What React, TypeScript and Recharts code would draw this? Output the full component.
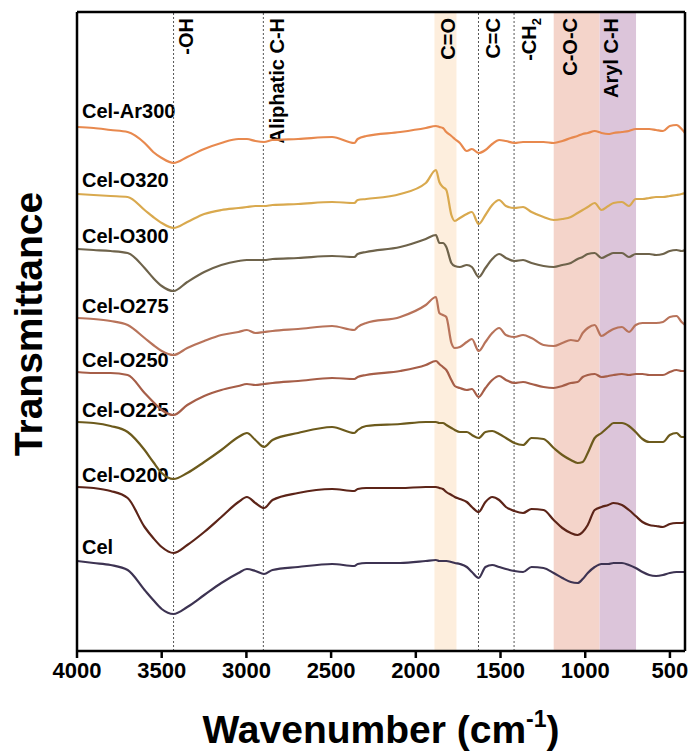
import { LineChart, Line, XAxis, YAxis, ReferenceLine, ReferenceArea } from 'recharts'

// wavenumber grid (cm-1) shared by all spectra
const wavenumbers = [4000, 3902, 3802, 3701, 3601, 3550, 3500, 3430, 3349, 3249, 3148, 3047, 2997, 2947, 2896, 2846, 2695, 2494, 2363, 2343, 2293, 2092, 1941, 1881, 1861, 1840, 1820, 1790, 1770, 1740, 1699, 1669, 1629, 1589, 1549, 1508, 1468, 1418, 1367, 1317, 1246, 1186, 1135, 1085, 1045, 1015, 985, 944, 904, 864, 833, 783, 742, 702, 662, 622, 582, 541, 501, 461, 431, 411]

// stacked transmittance (a.u., offset per sample)
const celAr300 = [529, 528, 526, 524, 513, 504, 498, 493, 499, 507, 513, 517, 517, 515, 514, 516, 517, 519, 513, 517, 520, 524, 528, 530, 529, 528, 524, 520, 517, 513, 505, 507, 503, 506, 512, 516, 515, 513, 514, 514, 514, 513, 515, 518, 520, 522, 523, 525, 523, 522, 523, 524, 525, 527, 527, 527, 526, 525, 530, 531, 527, 523]
const celO320 = [462, 461, 460, 459, 446, 439, 433, 428, 434, 442, 446, 448, 449, 450, 450, 451, 452, 454, 453, 456, 457, 462, 473, 486, 474, 469, 466, 441, 435, 438, 442, 444, 432, 441, 451, 456, 450, 448, 449, 444, 439, 436, 437, 439, 443, 446, 449, 453, 446, 450, 453, 454, 450, 457, 457, 458, 459, 459, 460, 461, 462, 463]
const celO300 = [407, 406, 405, 403, 388, 378, 370, 365, 374, 384, 391, 395, 396, 396, 396, 397, 398, 400, 399, 402, 404, 409, 417, 421, 413, 413, 409, 393, 390, 389, 391, 389, 379, 388, 397, 402, 398, 395, 396, 393, 390, 389, 391, 393, 397, 399, 402, 403, 398, 401, 403, 403, 399, 402, 402, 402, 401, 402, 405, 406, 405, 406]
const celO275 = [338, 337, 335, 331, 318, 311, 305, 301, 308, 315, 321, 324, 326, 323, 324, 325, 327, 330, 326, 329, 333, 339, 351, 359, 343, 341, 339, 313, 308, 309, 314, 317, 305, 314, 323, 328, 321, 319, 321, 318, 311, 310, 313, 316, 315, 323, 328, 331, 320, 324, 327, 329, 324, 331, 333, 333, 333, 334, 339, 340, 334, 331]
const celO250 = [284, 283, 283, 281, 263, 254, 246, 241, 251, 260, 266, 270, 272, 271, 272, 273, 275, 278, 277, 279, 281, 285, 291, 295, 292, 289, 286, 276, 270, 268, 266, 267, 259, 268, 276, 280, 276, 273, 274, 272, 269, 268, 270, 273, 274, 279, 281, 282, 279, 280, 281, 282, 281, 282, 282, 281, 281, 281, 284, 286, 285, 285]
const celO225 = [234, 233, 230, 224, 206, 194, 183, 177, 183, 194, 206, 219, 223, 216, 209, 216, 223, 229, 223, 226, 230, 232, 234, 234, 233, 233, 231, 228, 226, 224, 224, 221, 218, 224, 225, 222, 218, 213, 211, 218, 217, 208, 201, 196, 193, 194, 203, 218, 223, 229, 233, 233, 230, 224, 217, 214, 214, 214, 221, 223, 219, 219]
const celO200 = [169, 168, 165, 158, 129, 118, 109, 103, 111, 124, 139, 154, 159, 153, 148, 156, 163, 167, 165, 167, 168, 168, 169, 169, 168, 167, 164, 161, 159, 157, 154, 149, 144, 154, 159, 156, 149, 145, 143, 147, 146, 136, 128, 123, 121, 124, 131, 146, 149, 151, 153, 151, 146, 140, 134, 131, 130, 129, 132, 133, 133, 134]
const cel = [95, 93, 91, 86, 66, 56, 47, 42, 49, 61, 73, 83, 87, 85, 82, 86, 89, 92, 90, 92, 93, 93, 95, 96, 95, 95, 95, 94, 93, 92, 89, 84, 78, 89, 91, 89, 87, 85, 84, 89, 88, 83, 78, 74, 73, 77, 83, 89, 92, 92, 93, 93, 91, 88, 84, 81, 80, 81, 83, 84, 84, 84]

const xTicks = [4000, 3500, 3000, 2500, 2000, 1500, 1000, 500]
const xDomain = [411, 4000]
const yDomain = [5, 644]

const series = [
  { key: 'ar300', name: 'Cel-Ar300', values: celAr300 },
  { key: 'o320', name: 'Cel-O320', values: celO320 },
  { key: 'o300', name: 'Cel-O300', values: celO300 },
  { key: 'o275', name: 'Cel-O275', values: celO275 },
  { key: 'o250', name: 'Cel-O250', values: celO250 },
  { key: 'o225', name: 'Cel-O225', values: celO225 },
  { key: 'o200', name: 'Cel-O200', values: celO200 },
  { key: 'cel', name: 'Cel', values: cel },
]

const colors: Record<string, string> = {
  ar300: '#E8894E', o320: '#D9A94E', o300: '#6E634B', o275: '#B8735A',
  o250: '#A65E48', o225: '#6C5A1C', o200: '#5C2418', cel: '#3D3352',
}
const nameY: Record<string, number> = {
  ar300: 118, o320: 187, o300: 243, o275: 313, o250: 367, o225: 417, o200: 482, cel: 554,
}

// vertical marker lines and shaded bands
const markerLines = [
  { wn: 3430, text: '-OH', dx: 19 },
  { wn: 2900, text: 'Aliphatic C-H', dx: 21 },
  { wn: 1630, text: 'C=C', dx: 22 },
  { wn: 1420, text: '-CH', sub: '2', dx: 22 },
]
const bands = [
  { from: 1890, to: 1760, text: 'C=O', fill: '#FDEEDD', dx: 21 },
  { from: 1186, to: 915, text: 'C-O-C', fill: '#F4D4CA', dx: 23 },
  { from: 915, to: 700, text: 'Aryl C-H', fill: '#DCC5DA', dx: 18 },
]

const data = wavenumbers.map((wn, i) => {
  const row: Record<string, number> = { wn }
  series.forEach(s => { row[s.key] = s.values[i] })
  return row
})

const font = '"Liberation Sans", Arial, sans-serif'
const frame = { stroke: '#000', strokeWidth: 2.5 }

const VText = ({ viewBox, text, sub, dx }: any) => {
  const x = viewBox.x + dx
  const y = viewBox.y + 6
  return (
    <text x={x} y={y} transform={`rotate(-90 ${x} ${y})`} textAnchor="end"
      fontSize={20} fontWeight="bold" fontFamily={font} fill="#000">
      {text}
      {sub && <tspan dy={5} fontSize={13}>{sub}</tspan>}
    </text>
  )
}

const XTitle = ({ viewBox }: any) => {
  const cx = viewBox.x + viewBox.width / 2
  return (
    <text x={cx} y={743} textAnchor="middle" fontSize={39} fontWeight="bold" fontFamily={font} fill="#000">
      Wavenumber (cm<tspan dy={-16} fontSize={23}>-1</tspan><tspan dy={16}>)</tspan>
    </text>
  )
}

export default function App() {
  return (
    <div style={{ position: 'absolute', left: 0, top: 0, background: '#fff' }}>
      <LineChart width={693} height={753} data={data} margin={{ top: 12, right: 8, left: 77, bottom: 42 }}>
        {bands.map(b => (
          <ReferenceArea key={b.text} x1={b.from} x2={b.to} fill={b.fill} fillOpacity={1} stroke="none"
            label={(p: any) => <VText {...p} text={b.text} dx={b.dx} />} />
        ))}
        {markerLines.map(m => (
          <ReferenceLine key={m.text} x={m.wn} stroke="#555" strokeDasharray="2 2" strokeWidth={1}
            label={(p: any) => <VText {...p} text={m.text} sub={m.sub} dx={m.dx} />} />
        ))}
        <XAxis dataKey="wn" type="number" domain={xDomain} reversed ticks={xTicks} height={60}
          allowDataOverflow interval={0}
          axisLine={frame} tickLine={frame}
          tickSize={7} tickMargin={4}
          tick={{ fill: '#000', fontSize: 22, fontWeight: 'bold', fontFamily: font }}
          label={(p: any) => <XTitle {...p} />} />
        <YAxis type="number" domain={yDomain} hide allowDataOverflow />
        {series.map(s => (
          <Line key={s.key} dataKey={s.key} type="monotone" stroke={colors[s.key]} strokeWidth={2.2}
            dot={false} isAnimationActive={false} />
        ))}
        {/* plot frame */}
        <ReferenceLine x={xDomain[1]} stroke="#000" strokeWidth={2.5} ifOverflow="visible" />
        <ReferenceLine x={xDomain[0]} stroke="#000" strokeWidth={2.5} ifOverflow="visible" />
        <ReferenceLine y={yDomain[1]} stroke="#000" strokeWidth={2.5} ifOverflow="visible" />
        {series.map(s => (
          <text key={s.key} x={82} y={nameY[s.key]} fontSize={20} fontWeight="bold" fontFamily={font} fill="#000">
            {s.name}
          </text>
        ))}
        <text x={42} y={324} transform="rotate(-90 42 324)" textAnchor="middle" fontSize={39}
          fontWeight="bold" fontFamily={font} fill="#000">Transmittance</text>
      </LineChart>
    </div>
  )
}
